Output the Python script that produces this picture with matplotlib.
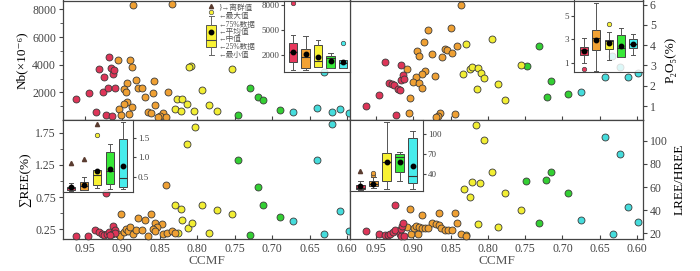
import matplotlib
matplotlib.use("Agg")
import matplotlib.pyplot as plt
from matplotlib.ticker import FixedLocator

plt.rcParams['font.family'] = ['Liberation Serif', 'Noto Sans CJK SC', 'DejaVu Serif']
plt.rcParams['axes.edgecolor'] = '#444444'
plt.rcParams['xtick.color'] = '#444444'
plt.rcParams['ytick.color'] = '#444444'
plt.rcParams['text.color'] = '#333333'

# colour groups (CCMF classes)
group_colors = {'r': '#DE3558', 'o': '#EFA033', 'y': '#F2EE33', 'g': '#33CF33', 'c': '#45DCDC'}
box_colors = ['#E8385C', '#F2A234', '#F8F234', '#38E838', '#48ECEC']

# ---- Nb panel (top left) ----
nb_ccmf = {
    'r': [0.962, 0.944, 0.931, 0.935, 0.926, 0.924, 0.921, 0.919, 0.917, 0.915, 0.912, 0.911, 0.913, 0.910],
    'o': [0.906, 0.889, 0.887, 0.882, 0.893, 0.898, 0.895, 0.879, 0.873, 0.857, 0.859, 0.869, 0.839, 0.893,
          0.898, 0.904, 0.887, 0.891, 0.902, 0.866, 0.862, 0.856, 0.846, 0.849, 0.842, 0.852, 0.885, 0.834],
    'y': [0.808, 0.811, 0.753, 0.827, 0.820, 0.813, 0.830, 0.822, 0.804, 0.793, 0.784, 0.774],
    'g': [0.729, 0.719, 0.712, 0.746, 0.689],
    'c': [0.672, 0.640, 0.620, 0.609, 0.598, 0.631],
}
nb_val = {
    'r': [1500, 1930, 3660, 550, 2020, 3080, 340, 2330, 4530, 3730, 3320, 3610, 290, 2290],
    'o': [4330, 4330, 3810, 2890, 2650, 2220, 2040, 2290, 2290, 2790, 1970, 1660, 2000, 1300,
          1150, 770, 960, 450, 340, 550, 520, 1060, 480, 310, 240, 240, 8330, 8380],
    'y': [3900, 3850, 3680, 1520, 1540, 1150, 770, 670, 670, 2140, 1080, 670],
    'g': [2330, 1640, 1440, 360, 720],
    'c': [600, 840, 600, 770, 520, 3500],
}

# ---- P2O5 panel (top right) ----
p_ccmf = {
    'r': [0.964, 0.946, 0.938, 0.923, 0.933, 0.929, 0.926, 0.921, 0.918, 0.916, 0.917, 0.914, 0.913],
    'o': [0.881, 0.849, 0.886, 0.895, 0.893, 0.875, 0.858, 0.855, 0.848, 0.842, 0.861, 0.908, 0.884,
          0.889, 0.897, 0.901, 0.892, 0.889, 0.871, 0.904, 0.906, 0.864, 0.867, 0.869, 0.844, 0.836],
    'y': [0.829, 0.795, 0.833, 0.824, 0.821, 0.813, 0.809, 0.805, 0.815, 0.786, 0.777, 0.756],
    'g': [0.748, 0.732, 0.721, 0.715, 0.692],
    'c': [0.675, 0.643, 0.612, 0.599, 0.633, 0.623],
}
p_val = {
    'r': [1.00, 1.54, 3.17, 0.56, 2.14, 2.08, 2.03, 1.82, 1.78, 3.01, 2.27, 2.52, 2.31],
    'o': [4.73, 4.84, 4.15, 3.70, 3.45, 3.55, 3.79, 3.75, 3.63, 3.96, 3.42, 2.81, 2.73,
          2.60, 2.44, 2.16, 2.14, 1.87, 2.50, 1.41, 0.67, 0.64, 0.52, 0.45, 0.59, 6.00],
    'y': [4.07, 4.28, 2.60, 2.80, 2.93, 2.85, 2.63, 2.36, 1.82, 2.08, 1.29, 3.01],
    'g': [2.96, 3.96, 1.46, 2.23, 1.57],
    'c': [1.70, 2.41, 2.41, 2.65, 3.47, 2.93],
}

# ---- sum REE panel (bottom left) ----
ree_ccmf = {
    'r': [0.962, 0.945, 0.936, 0.931, 0.927, 0.924, 0.920, 0.917, 0.914, 0.912, 0.910, 0.909, 0.922, 0.916],
    'o': [0.902, 0.879, 0.869, 0.862, 0.856, 0.847, 0.853, 0.905, 0.903, 0.898, 0.895, 0.892,
          0.889, 0.886, 0.882, 0.873, 0.866, 0.859, 0.856, 0.845, 0.840, 0.834, 0.830, 0.842],
    'y': [0.803, 0.813, 0.830, 0.822, 0.820, 0.812, 0.807, 0.826, 0.793, 0.784, 0.774, 0.753],
    'g': [0.746, 0.719, 0.712, 0.689, 0.729],
    'c': [0.620, 0.640, 0.609, 0.672, 0.631, 0.598],
}
ree_val = {
    'r': [0.14, 0.15, 0.235, 0.215, 0.185, 0.155, 0.185, 0.215, 0.175, 0.30, 0.235, 0.19, 0.82, 0.16],
    'o': [0.49, 0.42, 0.40, 0.48, 0.35, 0.33, 0.29, 0.18, 0.15, 0.21, 0.25, 0.22,
          0.28, 0.18, 0.235, 0.245, 0.15, 0.255, 0.22, 0.18, 0.20, 0.22, 0.20, 0.94],
    'y': [1.83, 1.57, 0.62, 0.56, 0.39, 0.27, 0.35, 0.19, 0.63, 0.19, 0.55, 0.49],
    'g': [1.32, 0.91, 0.62, 0.44, 0.16],
    'c': [1.88, 1.33, 0.54, 0.38, 0.17, 0.22],
}

# ---- LREE/HREE panel (bottom right) ----
lr_ccmf = {
    'r': [0.964, 0.946, 0.938, 0.934, 0.931, 0.927, 0.924, 0.918, 0.917, 0.916, 0.915, 0.914, 0.913, 0.924],
    'o': [0.904, 0.889, 0.865, 0.844, 0.875, 0.870, 0.866, 0.863, 0.858, 0.853, 0.848, 0.842,
          0.836, 0.829, 0.909, 0.903, 0.899, 0.896, 0.894, 0.892, 0.888, 0.884, 0.881],
    'y': [0.816, 0.805, 0.795, 0.822, 0.810, 0.832, 0.824, 0.777, 0.755, 0.813, 0.786, 0.829],
    'g': [0.749, 0.722, 0.715, 0.693, 0.732],
    'c': [0.643, 0.623, 0.612, 0.599, 0.675, 0.632],
}
lr_val = {
    'r': [22.0, 19.7, 18.3, 18.3, 19.7, 21.4, 22.6, 19.7, 17.2, 23.4, 26.3, 29.2, 17.7, 44.8],
    'o': [40.6, 35.7, 37.7, 37.7, 29.2, 28.3, 27.1, 24.9, 22.6, 22.6, 22.6, 29.2,
          19.7, 17.7, 25.4, 19.7, 24.9, 26.3, 19.7, 25.7, 24.9, 24.3, 24.3],
    'y': [114, 101, 73, 64.3, 63.4, 58.6, 51.1, 54.9, 39.7, 27.7, 25.4, 18.3],
    'g': [64.8, 66.3, 72.9, 54.9, 29.2],
    'c': [102.9, 88.3, 42.9, 30.0, 31.4, 19.7],
}

# ---- box plot summaries for the insets (red, orange, yellow, green, cyan) ----
def stats(lo, q1, med, q3, hi, mean, fl=()):
    return dict(whislo=lo, q1=q1, med=med, q3=q3, whishi=hi, mean=mean, fliers=list(fl))

nb_box = [stats(200, 1200, 2360, 3480, 4480, 2360, [8280]),
          stats(200, 480, 1720, 2680, 4280, 2120),
          stats(560, 600, 1280, 3200, 3880, 1720),
          stats(440, 480, 1640, 1880, 2280, 1280),
          stats(440, 480, 1000, 1400, 1400, 1120, [3480])]
p_box = [stats(0.95, 1.66, 2.08, 2.36, 3.13, 2.00, [0.44]),
         stats(0.32, 2.08, 3.10, 3.78, 6.14, 2.93),
         stats(1.23, 2.14, 2.90, 2.99, 3.60, 2.70, [4.29]),
         stats(1.46, 1.46, 2.30, 3.42, 3.98, 2.42),
         stats(1.65, 2.23, 2.65, 3.02, 3.50, 2.59)]
ree_box = [stats(0.12, 0.14, 0.20, 0.24, 0.33, 0.24),
           stats(0.14, 0.16, 0.25, 0.35, 0.50, 0.29),
           stats(0.20, 0.29, 0.54, 0.66, 0.66, 0.65, [1.58]),
           stats(0.17, 0.31, 0.65, 1.13, 1.34, 0.70),
           stats(0.17, 0.22, 0.46, 1.47, 1.92, 0.78)]
lr_box = [stats(17.0, 17.5, 19.0, 24.3, 29.2, 21.9),
          stats(19.5, 21.9, 25.0, 29.2, 35.6, 25.4, [38.5, 41.0]),
          stats(18.0, 30.2, 57.5, 70.7, 117.0, 57.5),
          stats(29.2, 43.0, 66.0, 69.3, 73.1, 58.4),
          stats(18.5, 26.8, 36.5, 92.7, 103.8, 52.6)]
# extreme values (triangles): box index, value
ree_tri = [(1, 0.85), (2, 0.96), (3, 1.86)]
lr_tri = [(1, 44.8)]

W, H = 700, 271
fig = plt.figure(figsize=(W / 100, H / 100), dpi=100)


def px_axes(x0, y0, x1, y1, **kw):
    return fig.add_axes([x0 / W, 1 - y1 / H, (x1 - x0) / W, (y1 - y0) / H], **kw)


def scatter_panel(ax, xs, ys):
    for g in ['c', 'g', 'y', 'o', 'r']:
        ax.scatter(xs[g], ys[g], s=25, color=group_colors[g], edgecolor='#3a3a3a',
                   linewidth=0.6, zorder=3, clip_on=False)


ax_nb = px_axes(63, 0.5, 350, 120)
ax_p = px_axes(350, 0.5, 643, 120)
ax_ree = px_axes(63, 120, 350, 239)
ax_lr = px_axes(350, 120, 643, 239)

scatter_panel(ax_nb, nb_ccmf, nb_val)
scatter_panel(ax_p, p_ccmf, p_val)
scatter_panel(ax_ree, ree_ccmf, ree_val)
scatter_panel(ax_lr, lr_ccmf, lr_val)

xt = [0.95, 0.90, 0.85, 0.80, 0.75, 0.70, 0.65, 0.60]
for ax in (ax_nb, ax_ree):
    ax.set_xlim(0.979, 0.596)
for ax in (ax_p, ax_lr):
    ax.set_xlim(0.985, 0.592)
for ax in (ax_nb, ax_p, ax_ree, ax_lr):
    ax.set_xticks(xt)
    ax.tick_params(axis='x', direction='in', length=3, labelsize=8.5, pad=3)
    ax.tick_params(axis='y', direction='out', length=3, labelsize=8.5, pad=2)
    ax.tick_params(which='minor', length=2)
    for s in ax.spines.values():
        s.set_linewidth(0.9)
for ax in (ax_nb, ax_p):
    ax.tick_params(axis='x', labelbottom=False)
for ax in (ax_ree, ax_lr):
    ax.set_xticklabels([f'{v:.2f}' for v in xt])
    ax.set_xlabel('CCMF', fontsize=9.5, labelpad=0, color='#555555')

ax_nb.set_ylim(-4, 8650)
ax_nb.set_yticks([2000, 4000, 6000, 8000])
ax_nb.yaxis.set_minor_locator(FixedLocator([1000, 3000, 5000, 7000]))
ax_nb.set_ylabel('Nb(×10⁻⁶)', fontsize=9.5, labelpad=3)

ax_ree.set_ylim(0.1, 1.945)
ax_ree.set_yticks([0.25, 0.75, 1.25, 1.75])
ax_ree.set_yticklabels(['0.25', '0.75', '1.25', '1.75'])
ax_ree.yaxis.set_minor_locator(FixedLocator([0.5, 1.0, 1.5]))
ax_ree.set_ylabel('∑REE(%)', fontsize=9.5, labelpad=3)

ax_p.set_ylim(0.31, 6.2)
ax_p.set_yticks([1, 2, 3, 4, 5, 6])
ax_p.yaxis.tick_right()
ax_p.yaxis.set_label_position('right')
ax_p.set_ylabel('P₂O₅(%)', fontsize=9.5, labelpad=6)

ax_lr.set_ylim(15, 118)
ax_lr.set_yticks([20, 40, 60, 80, 100])
ax_lr.yaxis.tick_right()
ax_lr.yaxis.set_label_position('right')
ax_lr.set_ylabel('LREE/HREE', fontsize=9.5, labelpad=4)


def inset(rect, box, xlim, ylim, ticks, labels, side, tri=()):
    ax = px_axes(*rect, zorder=5)
    ax.set_facecolor((1, 1, 1, 0.82))
    res = ax.bxp(box, positions=range(1, 6), widths=0.66, showmeans=True, patch_artist=True,
                 boxprops=dict(edgecolor='#444444', linewidth=0.7),
                 medianprops=dict(color='#333333', linewidth=0.8),
                 whiskerprops=dict(color='#555555', linewidth=0.7),
                 capprops=dict(color='#555555', linewidth=0.7),
                 meanprops=dict(marker='o', markerfacecolor='black', markeredgecolor='black',
                                markersize=3.2),
                 flierprops=dict(marker='o', markersize=3.2, markeredgecolor='#444444',
                                 markeredgewidth=0.5))
    for patch, fl, c in zip(res['boxes'], res['fliers'], box_colors):
        patch.set_facecolor(c)
        fl.set_markerfacecolor(c)
    for pos, v in tri:
        ax.plot(pos, v, marker='^', color='#5a3c30', markersize=3, linestyle='none')
    ax.set_xlim(*xlim)
    ax.set_ylim(*ylim)
    ax.set_xticks([])
    ax.set_yticks(ticks)
    ax.set_yticklabels(labels)
    ax.tick_params(axis='y', direction='out', length=2, labelsize=6.5, pad=1.5)
    if side == 'right':
        ax.yaxis.tick_right()
    for s in ax.spines.values():
        s.set_linewidth(0.8)
    return ax


inset((284, 0.5, 350, 72), nb_box, (0.28, 5.56), (-40, 8600), [2000, 5000, 8000],
      ['2000', '5000', '8000'], 'left')
inset((574, 0.5, 643, 72), p_box, (0.18, 5.8), (0.2, 6.35), [1, 3, 5], ['1', '3', '5'], 'left')
inset((63, 120, 133, 192), ree_box, (0.37, 5.78), (0.1, 1.97), [0.5, 1.0, 1.5],
      ['0.5', '1.0', '1.5'], 'right', ree_tri)
inset((350, 120, 423, 191), lr_box, (0.2, 5.8), (15, 120), [40, 70, 100],
      ['40', '70', '100'], 'right', lr_tri)

# key explaining the box symbols (drawn in pixel units)
key = px_axes(195, 0.5, 300, 60, zorder=4)
key.set_xlim(195, 300)
key.set_ylim(59.5, 0)
key.axis('off')
key_box = [dict(whislo=54, q1=46, med=39.3, q3=24, whishi=15.7, mean=31, fliers=[11])]
kres = key.bxp(key_box, positions=[211], widths=10, showmeans=True, patch_artist=True,
               boxprops=dict(facecolor='#F8F234', edgecolor='#555555', linewidth=0.7),
               medianprops=dict(color='#444444', linewidth=0.8),
               whiskerprops=dict(color='#666666', linewidth=0.7),
               capprops=dict(color='#666666', linewidth=0.7),
               meanprops=dict(marker='o', markerfacecolor='black', markeredgecolor='black',
                              markersize=3.2),
               flierprops=dict(marker='o', markersize=3.2, markerfacecolor='#F8F234',
                               markeredgecolor='#555555', markeredgewidth=0.5))
key.plot(211, 5, marker='^', color='#5a3c30', markersize=3)
key_labels = [(7.5, '}→离群值'), (15.7, '←最大值'), (24, '←75%数据'), (31, '←平均值'),
              (38.3, '←中值'), (46, '←25%数据'), (54, '←最小值')]
for y, t in key_labels:
    key.text(218, y, t, fontsize=5.5, color='#555555', va='center', ha='left')

fig.savefig('out.png', dpi=100)
